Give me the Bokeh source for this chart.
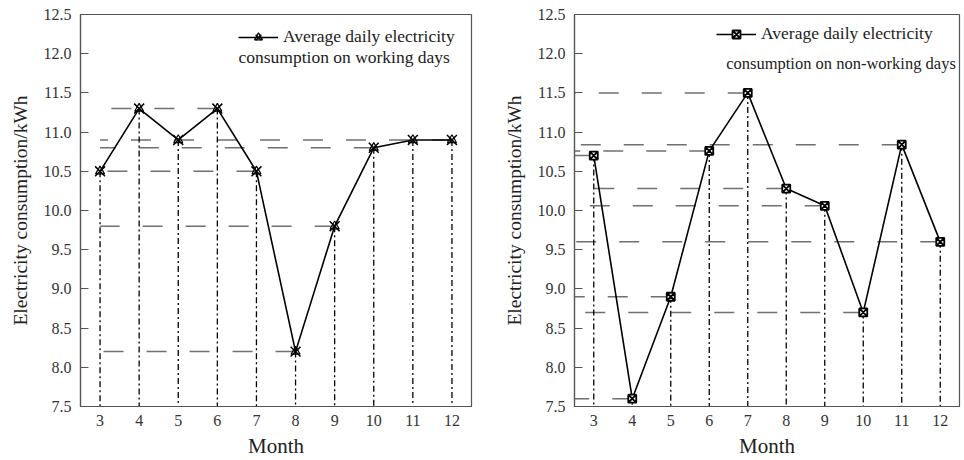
import numpy as np
from bokeh.plotting import figure
from bokeh.layouts import row
from bokeh.models import Range1d, FixedTicker, PrintfTickFormatter, Legend, LegendItem, Label
from bokeh.embed import file_html
from bokeh.resources import INLINE

months = [3, 4, 5, 6, 7, 8, 9, 10, 11, 12]
working_days = [10.5, 11.3, 10.9, 11.3, 10.5, 8.2, 9.8, 10.8, 10.9, 10.9]
non_working_days = [10.7, 7.6, 8.9, 10.76, 11.5, 10.28, 10.06, 8.7, 10.84, 9.6]
y_ticks = [7.5, 8.0, 8.5, 9.0, 9.5, 10.0, 10.5, 11.0, 11.5, 12.0, 12.5]
legend_line1 = "Average daily electricity"
legend_line2_work = "consumption on working days"
legend_line2_non = "consumption on non-working days"
x_label = "Month"
y_label = "Electricity consumption/kWh"

FONT = "Liberation Serif"


def make_fig(values, width, border_left, border_right, hline_start, kind,
             text2, text2_size, leg_loc, lab2_x, lab2_y):
    p = figure(width=width, height=460, output_backend="svg", toolbar_location=None,
               x_range=Range1d(2.5, 12.5), y_range=Range1d(7.5, 12.5),
               min_border_left=border_left, min_border_right=border_right,
               min_border_top=14, min_border_bottom=54)
    p.grid.visible = False
    p.outline_line_color = "#555555"
    p.outline_line_width = 1.2
    p.background_fill_color = "white"
    p.border_fill_color = "white"

    xs = np.array(months, dtype=float)
    vs = np.array(values, dtype=float)
    bottom = p.y_range.start

    # horizontal dashed guides: from left to the last month with that value
    for v in sorted(set(values)):
        last_x = xs[vs == v].max()
        p.segment(x0=[last_x], y0=[v], x1=[hline_start], y1=[v],
                  line_color="#707070", line_width=1.5, line_dash="20 23")

    # vertical dash-dot drop lines
    p.segment(x0=xs, y0=vs, x1=xs, y1=[bottom] * len(xs),
              line_color="black", line_width=1.3, line_dash="6 3 2 3")

    line_r = p.line(xs, vs, line_color="black", line_width=1.6)
    rends = [line_r]
    if kind == "star":
        rends.append(p.scatter(xs, vs, marker="x", size=14, line_color="black", line_width=1.5))
        rends.append(p.scatter(xs, vs, marker="triangle", size=9, fill_color=None,
                               line_color="black", line_width=1.2))
    else:
        rends.append(p.scatter(xs, vs, marker="square_x", size=8, fill_color="white",
                               line_color="black", line_width=1.8))

    legend = Legend(items=[LegendItem(label=legend_line1, renderers=rends)],
                    location=leg_loc, padding=0, margin=0, spacing=0,
                    glyph_width=40, glyph_height=20, label_height=20, label_standoff=5,
                    border_line_alpha=0, background_fill_alpha=0,
                    label_text_font=FONT, label_text_font_size="17.5px",
                    label_text_color="#222222")
    p.add_layout(legend)
    p.add_layout(Label(x=lab2_x, y=lab2_y, text=text2, text_font=FONT,
                       text_font_size=text2_size, text_color="#222222",
                       text_baseline="middle", text_align="left"))

    p.xaxis.ticker = FixedTicker(ticks=months)
    p.yaxis.ticker = FixedTicker(ticks=y_ticks)
    p.yaxis.formatter = PrintfTickFormatter(format="%.1f")
    for ax in (p.xaxis, p.yaxis):
        ax.axis_line_color = "#555555"
        ax.axis_line_width = 1.2
        ax.major_tick_line_color = "#555555"
        ax.minor_tick_line_color = None
        ax.major_label_text_font = FONT
        ax.major_label_text_font_size = "16px"
        ax.major_label_text_color = "#333333"
        ax.axis_label_text_font = FONT
        ax.axis_label_text_font_style = "normal"
        ax.axis_label_text_color = "#222222"
    p.xaxis.axis_label_text_font_size = "21px"
    p.yaxis.axis_label_text_font_size = "19.5px"
    p.xaxis.major_tick_in = 0
    p.xaxis.major_tick_out = 0
    p.xaxis.major_label_standoff = 8
    p.xaxis.axis_label_standoff = 5
    p.yaxis.major_tick_in = 8
    p.yaxis.major_tick_out = 0
    p.yaxis.major_label_standoff = 9
    p.yaxis.axis_label_standoff = 10
    p.xaxis.axis_label = x_label
    p.yaxis.axis_label = y_label
    return p


p1 = make_fig(working_days, 500, 80, 29, months[0], "star", legend_line2_work, "17.5px",
              (158, 359), 6.54, 11.96)
p2 = make_fig(non_working_days, 462, 73, 3, 2.5, "square", legend_line2_non, "16.5px",
              (142, 362), 6.44, 11.875)

layout = row(p1, p2)
open("out.html", "w").write(file_html(layout, INLINE))
